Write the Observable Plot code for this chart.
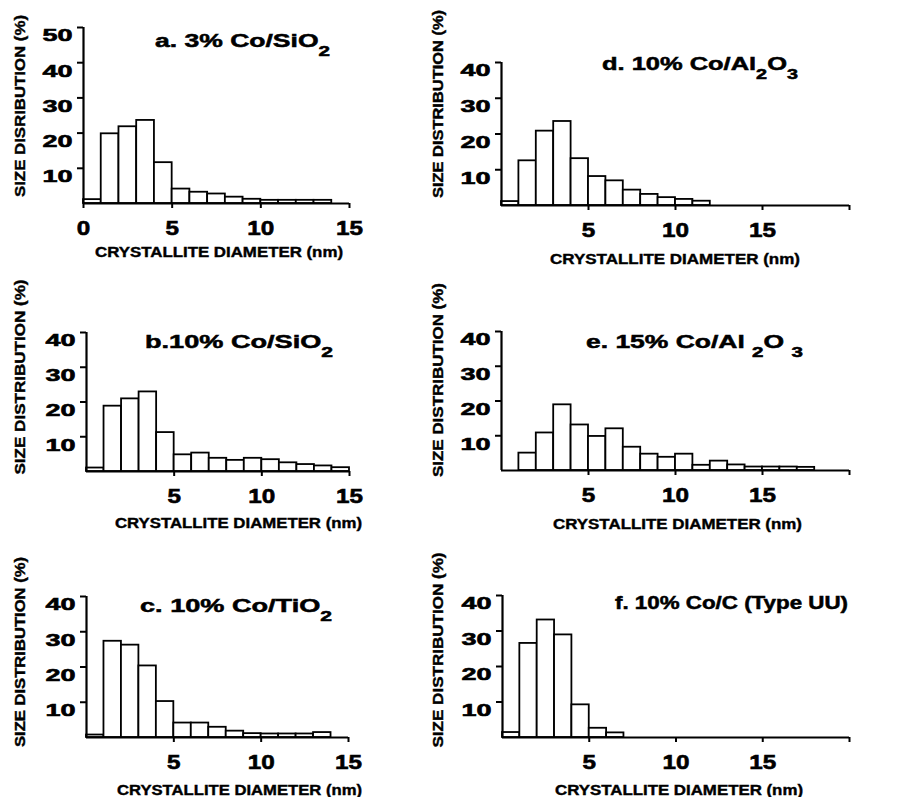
<!DOCTYPE html>
<html><head><meta charset="utf-8">
<script src="https://cdn.jsdelivr.net/npm/d3@7"></script>
<script src="https://cdn.jsdelivr.net/npm/@observablehq/plot@0.6"></script>
<style>
body{margin:0;background:#fff;}
#fig{position:relative;width:899px;height:797px;background:#fff;overflow:hidden;}
.panel{position:absolute;}
#overlay{position:absolute;left:0;top:0;pointer-events:none;}
</style></head><body><div id="fig"></div>
<script>
// ---- data (bin lower edges in nm, bin width 1 nm; values in %) ----
const binStart = [0,1,2,3,4,5,6,7,8,9,10,11,12,13,14,15,16,17,18,19];
const valuesA = [1.1, 19.8, 21.8, 23.6, 11.6, 4.1, 3.2, 2.7, 1.8, 1.2, 0.9, 0.9, 0.9, 0.9];
const valuesB = [1.0, 18.8, 20.9, 22.9, 11.2, 4.8, 5.3, 3.8, 3.2, 3.8, 3.4, 2.5, 2.0, 1.6, 1.1];
const valuesC = [0.7, 27.3, 26.2, 20.3, 10.2, 4.1, 4.1, 2.9, 1.8, 1.1, 1.0, 1.0, 1.0, 1.4];
const valuesD = [1.1, 12.5, 20.8, 23.5, 13.1, 8.1, 6.9, 4.3, 3.1, 2.2, 1.7, 1.2];
const valuesE = [null, 5.0, 10.8, 18.9, 13.1, 9.8, 12.0, 6.7, 4.7, 3.8, 4.7, 1.5, 2.7, 1.6, 1.0, 1.0, 1.0, 0.9];
const valuesF = [1.4, 26.5, 33.1, 28.9, 9.2, 2.6, 1.3];

const titleA = [["a. 3% Co/SiO"],["2","sub"]];
const titleB = [["b.10% Co/SiO"],["2","sub"]];
const titleC = [["c. 10% Co/TiO"],["2","sub"]];
const titleD = [["d. 10% Co/Al"],["2","sub"],["O"],["3","sub"]];
const titleE = [["e.  15% Co/Al "],["2","sub"],["O "],["3","sub"]];
const titleF = [["f. 10% Co/C (Type UU)"]];

const xLabel = "CRYSTALLITE DIAMETER (nm)";
const yLabel = "SIZE DISTRIBUTION (%)";
const yLabelA = "SIZE DISRIBUTION (%)";

const yTicks40 = [10,20,30,40];
const yTicks50 = [10,20,30,40,50];
const xTicks15 = [0,5,10,15];
const xTicks15b = [5,10,15];
const xTicks20 = [5,10,15,20];

// ---- layout ----
const panels = [
  {values: valuesA, xMax: 15, yMax: 50, yTicks: yTicks50, xTicks: xTicks15, left: 0, top: 0, width: 420, height: 265, mL: 83, mR: 71, mT: 27, mB: 62,
   title: titleA, tx: 155, ty: 47, tl: 175, xl: [95, 257, 248], yl: [yLabelA, 25, 106, 182]},
  {values: valuesB, xMax: 15, yMax: 40, yTicks: yTicks40, xTicks: xTicks15b, left: 0, top: 265, width: 420, height: 265, mL: 86, mR: 71, mT: 67, mB: 59,
   title: titleB, tx: 145, ty: 348, tl: 188, xl: [115, 528, 247], yl: [yLabel, 25, 377, 195]},
  {values: valuesC, xMax: 15, yMax: 40, yTicks: yTicks40, xTicks: xTicks15b, left: 0, top: 530, width: 420, height: 267, mL: 86, mR: 72, mT: 66, mB: 60,
   title: titleC, tx: 140, ty: 612, tl: 192, xl: [117, 795, 245], yl: [yLabel, 25, 652, 190]},
  {values: valuesD, xMax: 20, yMax: 40, yTicks: yTicks40, xTicks: xTicks20, left: 420, top: 0, width: 479, height: 265, mL: 81, mR: 50, mT: 62, mB: 60,
   title: titleD, tx: 602, ty: 70, tl: 196, xl: [550, 264, 250], yl: [yLabel, 443, 104, 188]},
  {values: valuesE, xMax: 20, yMax: 40, yTicks: yTicks40, xTicks: xTicks20, left: 420, top: 265, width: 479, height: 265, mL: 81, mR: 50, mT: 66, mB: 60,
   title: titleE, tx: 586, ty: 348, tl: 217, xl: [553, 529, 249], yl: [yLabel, 443, 380, 194]},
  {values: valuesF, xMax: 20, yMax: 40, yTicks: yTicks40, xTicks: xTicks20, left: 420, top: 530, width: 479, height: 267, mL: 82, mR: 50, mT: 65, mB: 60,
   title: titleF, tx: 615, ty: 609, tl: 233, xl: [555, 795, 248], yl: [yLabel, 443, 650, 195]}
];

const FONT = "'Liberation Sans', Arial, Helvetica, sans-serif";
const fig = document.getElementById("fig");

for (const p of panels) {
  const data = p.values.map((v, i) => ({lo: binStart[i], hi: binStart[i] + 1, v})).filter(d => d.v != null);
  const plot = Plot.plot({
    width: p.width, height: p.height,
    marginLeft: p.mL, marginRight: p.mR, marginTop: p.mT, marginBottom: p.mB,
    style: {fontFamily: FONT, fontWeight: "bold", fontSize: "16px", color: "black", background: "transparent", overflow: "visible"},
    x: {domain: [0, p.xMax], ticks: p.xTicks, tickSize: 5, tickPadding: 12, tickFormat: d => d === 20 ? "" : String(d), label: null},
    y: {domain: [0, p.yMax], ticks: p.yTicks, tickSize: 6, tickPadding: 5, label: null},
    marks: [
      Plot.rectY(data, {x1: "lo", x2: "hi", y: "v", fill: "white", stroke: "black", strokeWidth: 1.8}),
      Plot.ruleY([0], {stroke: "black", strokeWidth: 2.2}),
      Plot.ruleX([0], {stroke: "black", strokeWidth: 2.2})
    ]
  });
  plot.classList.add("panel");
  plot.style.left = p.left + "px";
  plot.style.top = p.top + "px";
  const s = d3.select(plot);
  s.selectAll("g[aria-label^='x-axis'] path, g[aria-label^='x-axis'] line, g[aria-label^='y-axis'] path, g[aria-label^='y-axis'] line")
    .attr("stroke-width", 2).attr("stroke", "black");
  s.selectAll("g[aria-label^='x-axis'] text").each(function() {
    const t = d3.select(this), n = this.textContent.length;
    t.attr("font-size", 21).attr("fill", "black").attr("stroke", "black").attr("stroke-width", 0.6);
    if (n) t.attr("textLength", 13.5 * n).attr("lengthAdjust", "spacingAndGlyphs");
  });
  s.selectAll("g[aria-label^='y-axis'] text").each(function() {
    const t = d3.select(this), n = this.textContent.length;
    t.attr("font-size", 16.5).attr("fill", "black").attr("dy", "0.52em").attr("stroke", "black").attr("stroke-width", 0.6);
    if (n) t.attr("textLength", 15 * n).attr("lengthAdjust", "spacingAndGlyphs");
  });
  fig.appendChild(plot);
}

// ---- overlay texts: titles and axis labels ----
const ov = d3.select(fig).append("svg").attr("id", "overlay").attr("width", 899).attr("height", 797)
  .attr("font-family", FONT).attr("font-weight", "bold").attr("fill", "black");
for (const p of panels) {
  const t = ov.append("text").attr("x", p.tx).attr("y", p.ty).attr("font-size", 18)
    .attr("stroke", "black").attr("stroke-width", 0.5)
    .attr("textLength", p.tl).attr("lengthAdjust", "spacingAndGlyphs");
  let down = false;
  for (const [txt, kind] of p.title) {
    const ts = t.append("tspan").text(txt);
    if (kind === "sub") { ts.attr("font-size", 14).attr("dy", 9); down = true; }
    else if (down) { ts.attr("dy", -9); down = false; }
  }
  ov.append("text").attr("x", p.xl[0]).attr("y", p.xl[1]).attr("font-size", 14.5)
    .attr("stroke", "black").attr("stroke-width", 0.4)
    .attr("textLength", p.xl[2]).attr("lengthAdjust", "spacingAndGlyphs").text(xLabel);
  const [lab, lx, ly, ll] = p.yl;
  ov.append("text").attr("transform", `translate(${lx},${ly}) rotate(-90)`).attr("text-anchor", "middle")
    .attr("stroke", "black").attr("stroke-width", 0.4)
    .attr("font-size", 14).attr("textLength", ll).attr("lengthAdjust", "spacingAndGlyphs").text(lab);
}
</script></body></html>
